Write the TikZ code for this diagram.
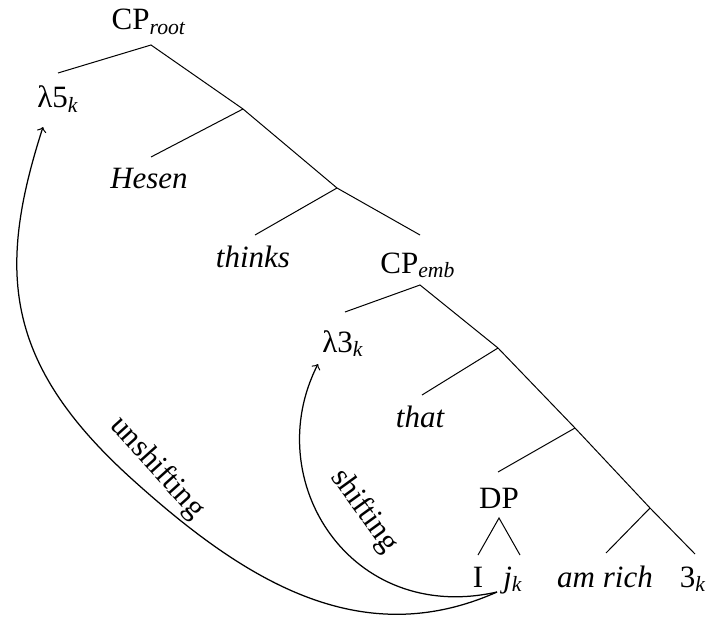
\documentclass[tikz,border=0pt]{standalone}
\usepackage{fontspec}
\setmainfont{Liberation Serif}
\newcommand{\sbx}[1]{\textsubscript{\itshape #1}}
\begin{document}
\begin{tikzpicture}[x=0.4pt,y=-0.4pt,
  lbl/.style={anchor=base,inner sep=0pt,font=\fontsize{12.4}{14}\selectfont},
  edge/.style={line width=0.4pt},
  arc/.style={->,line width=0.5pt},
  arclbl/.style={inner sep=0pt,font=\fontsize{12.4}{14}\selectfont}]
\useasboundingbox (0,0) rectangle (710,619);
% labels
\node[lbl] (root) at (149,30) {CP\sbx{root}};
\node[lbl] (l5) at (58,108) {λ5\sbx{k}};
\node[lbl] (hesen) at (149,188) {\itshape Hesen};
\node[lbl] (thinks) at (253,267) {\itshape thinks};
\node[lbl] (cpemb) at (418,273) {CP\sbx{emb}};
\node[lbl] (l3) at (343,352) {λ3\sbx{k}};
\node[lbl] (that) at (420,427) {\itshape that};
\node[lbl] (dp) at (499,508) {DP};
\node[lbl] (i) at (478,587) {I};
\node[lbl] (jk) at (513,587) {\itshape j\sbx{k}};
\node[lbl] (amrich) at (605,587) {\itshape am rich};
\node[lbl] (tk) at (693,587) {3\sbx{k}};
% junctions
\coordinate (r0) at (151,45);
\coordinate (r0l) at (58,73);
\coordinate (j1) at (243,109);
\coordinate (hs) at (151,157);
\coordinate (j2) at (337,188);
\coordinate (ts) at (255,235);
\coordinate (ce) at (420,235);
\coordinate (e0) at (420,285);
\coordinate (e0l) at (345,312);
\coordinate (j3) at (498,348);
\coordinate (tt) at (422,395);
\coordinate (j4) at (575,428);
\coordinate (dpt) at (498,472);
\coordinate (j5) at (650,508);
\coordinate (d0) at (499,518);
\coordinate (il) at (478,555);
\coordinate (jr) at (520,555);
\coordinate (ar) at (606,553);
\coordinate (tr) at (695,554);
% tree edges
\draw[edge] (r0l) -- (r0) -- (j1) -- (j2) -- (ce);
\draw[edge] (j1) -- (hs);
\draw[edge] (j2) -- (ts);
\draw[edge] (e0l) -- (e0) -- (j3) -- (j4) -- (j5) -- (tr);
\draw[edge] (j3) -- (tt);
\draw[edge] (j4) -- (dpt);
\draw[edge] (j5) -- (ar);
\draw[edge] (il) -- (d0) -- (jr);
% arrows
\coordinate (js) at (497,592);
\coordinate (um) at (133,480);
\coordinate (e5) at (43,127);
\coordinate (e3) at (318,364);
\draw[arc] (js) .. controls (360,653) and (244,580) .. (um)
  .. controls (3,363) and (-3,270) .. (e5);
\draw[arc] (js) .. controls (350,625) and (259,480) .. (e3);
\node[arclbl,rotate=-48] (unsh) at (157,468) {unshifting};
\node[arclbl,rotate=-54] (shif) at (364,511) {shifting};
\end{tikzpicture}
\end{document}
